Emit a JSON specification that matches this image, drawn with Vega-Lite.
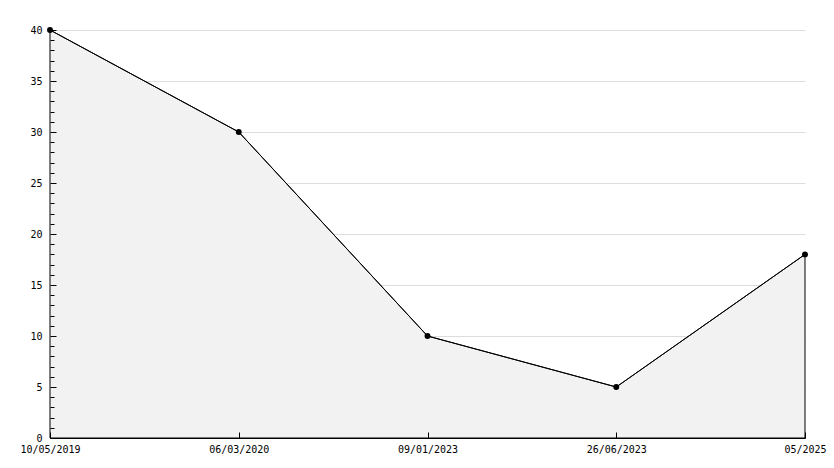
{
  "$schema": "https://vega.github.io/schema/vega-lite/v6.json",
  "width": 755,
  "height": 408,
  "autosize": {"type": "none"},
  "padding": {"left": 50, "top": 30, "right": 29, "bottom": 30},
  "background": "white",
  "config": {
    "view": {"stroke": null},
    "axis": {"labelFont": "DejaVu Sans Mono", "labelFontSize": 10, "labelColor": "#000000", "domainColor": "#000000", "tickColor": "#000000"}
  },
  "data": {
    "values": [
      {"date": "10/05/2019", "value": 40},
      {"date": "06/03/2020", "value": 30},
      {"date": "09/01/2023", "value": 10},
      {"date": "26/06/2023", "value": 5},
      {"date": "05/2025", "value": 18}
    ]
  },
  "encoding": {
    "x": {"field": "date", "type": "ordinal", "sort": null, "scale": {"type": "point", "padding": 0}, "title": null,
      "axis": {"labelAngle": 0, "labelPadding": 12, "tickSize": -6, "zindex": 1, "labelOverlap": false, "labelBound": false, "labelFlush": false, "title": null}}
  },
  "layer": [
    {
      "mark": {"type": "area", "color": "#f2f2f2", "stroke": "#000000", "strokeWidth": 1},
      "encoding": {
        "y": {"field": "value", "type": "quantitative", "scale": {"domain": [0, 40], "nice": false}, "title": null,
          "axis": {"orient": "left", "values": [0, 5, 10, 15, 20, 25, 30, 35, 40], "grid": true, "gridColor": "#dddddd", "ticks": false, "labelPadding": 8, "labelOverlap": false, "labelBound": false, "zindex": 0, "title": null}}
      }
    },
    {
      "mark": {"type": "line", "color": "#000000", "strokeWidth": 1},
      "encoding": {
        "y": {"field": "value", "type": "quantitative", "scale": {"domain": [0, 40], "nice": false}, "axis": null}
      }
    },
    {
      "mark": {"type": "point", "filled": true, "color": "#000000", "size": 35, "opacity": 1},
      "encoding": {
        "y": {"field": "value", "type": "quantitative", "scale": {"domain": [0, 40], "nice": false}, "axis": null}
      }
    },
    {
      "mark": {"type": "point", "opacity": 0},
      "encoding": {
        "y": {"field": "value", "type": "quantitative", "scale": {"domain": [0, 40], "nice": false}, "title": null,
          "axis": {"orient": "left", "values": [0,1,2,3,4,5,6,7,8,9,10,11,12,13,14,15,16,17,18,19,20,21,22,23,24,25,26,27,28,29,30,31,32,33,34,35,36,37,38,39,40],
            "labels": false, "domain": false, "grid": false, "zindex": 1,
            "tickSize": {"condition": {"test": "datum.value % 5 == 0", "value": -6}, "value": -4}, "title": null}}
      }
    }
  ],
  "resolve": {"axis": {"y": "independent"}}
}
